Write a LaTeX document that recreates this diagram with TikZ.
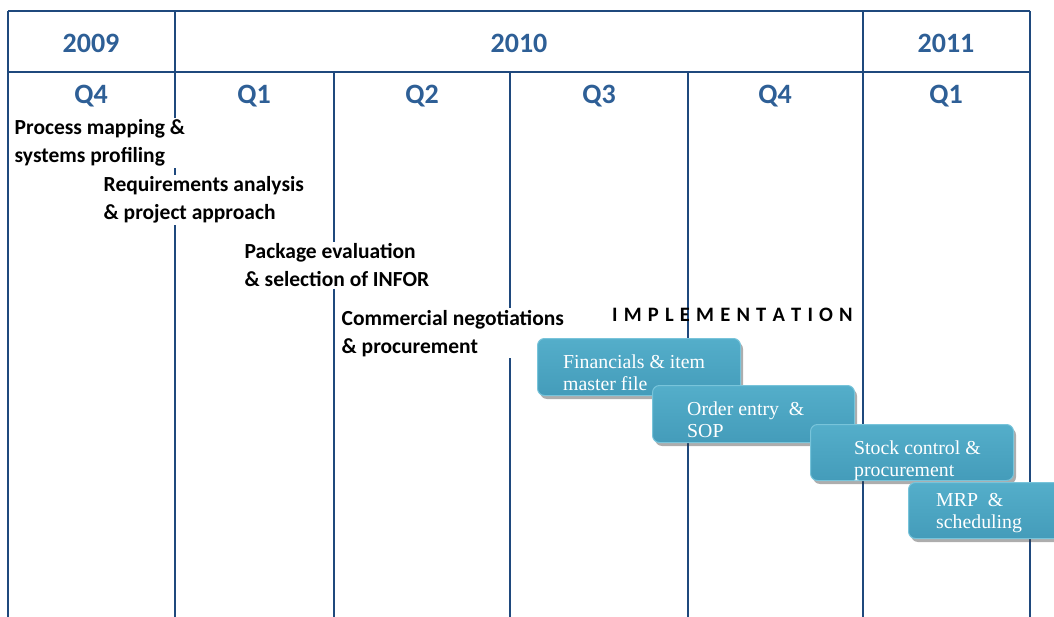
\documentclass[tikz,border=0pt]{standalone}
\usepackage{fontspec}
\setmainfont{Carlito}
\newfontfamily\boxfont{Liberation Serif}
\usetikzlibrary{shadows}
\definecolor{gridblue}{RGB}{31,73,125}
\definecolor{headblue}{RGB}{46,95,150}
\definecolor{tealtop}{RGB}{84,174,202}
\definecolor{tealbot}{RGB}{68,156,186}
\definecolor{tealedge}{RGB}{120,196,218}
\tikzset{
  grid/.style={draw=gridblue, line width=2.2pt},
  head/.style={anchor=base, text=headblue, font=\bfseries\fontsize{28}{32}\selectfont, inner sep=0pt},
  task/.style={anchor=base west, fill=white, inner sep=1.5pt, align=left,
               font=\bfseries\fontsize{21.5}{28}\selectfont},
  impl/.style={anchor=base west, inner sep=0pt, font=\bfseries\fontsize{20.5}{22}\selectfont},
  phasebox/.style={anchor=north west, rounded corners=7pt, draw=tealedge, line width=1pt,
               top color=tealtop, bottom color=tealbot,
               drop shadow={shadow xshift=2.5pt, shadow yshift=-3.5pt, opacity=0.4, fill=black!80},
               inner sep=0pt},
  phasetext/.style={anchor=base west, inner sep=0pt, align=left, text=white,
               font=\boxfont\fontsize{19.8}{22}\selectfont}
}
\begin{document}
\begin{tikzpicture}[x=1pt,y=-1pt]
\useasboundingbox (0,0) rectangle (1054,617);
\clip (0,0) rectangle (1054,617);
% grid
\draw[grid] (8,11) -- (1030,11);
\draw[grid] (8,72) -- (1030,72);
\draw[grid] (8,11) -- (8,617);
\draw[grid] (175,11) -- (175,617);
\draw[grid] (334,72) -- (334,617);
\draw[grid] (510,72) -- (510,617);
\draw[grid] (688,72) -- (688,617);
\draw[grid] (863,11) -- (863,617);
\draw[grid] (1030,11) -- (1030,617);
% headers
\node[head] (y2009) at (91,53) {2009};
\node[head] (y2010) at (519,53) {2010};
\node[head] (y2011) at (946,53) {2011};
\node[head] (q4a) at (91,104) {Q4};
\node[head] (q1a) at (254,104) {Q1};
\node[head] (q2) at (422,104) {Q2};
\node[head] (q3) at (599,104) {Q3};
\node[head] (q4b) at (775,104) {Q4};
\node[head] (q1b) at (946,104) {Q1};
% tasks (base anchor = last line baseline)
\node[task] (t1) at (13,163) {Process mapping \&\\systems profiling};
\node[task] (t2) at (102,220) {Requirements analysis\\\& project approach};
\node[task] (t3) at (243,287) {Package evaluation\\\& selection of INFOR};
\node[task] (t4) at (340,353) {Commercial negotiations\\\& procurement};
\node[impl] (impl) at (612,322) {\spaceskip=6.2pt I M P L E M E N T A T I O N};
% phases
\node[phasebox, minimum width=203pt, minimum height=57pt] (p1) at (537,338) {};
\node[phasetext] (p1t) at (563,390) {Financials \& item\\master file};
\node[phasebox, minimum width=202pt, minimum height=57pt] (p2) at (652,385) {};
\node[phasetext] (p2t) at (687,437) {Order entry\ \ \&\\SOP};
\node[phasebox, minimum width=203pt, minimum height=56pt] (p3) at (810,424) {};
\node[phasetext] (p3t) at (854,476) {Stock control \&\\procurement};
\node[phasebox, minimum width=203pt, minimum height=56pt] (p4) at (908,482) {};
\node[phasetext] (p4t) at (936,528) {MRP\ \ \&\\scheduling};
\end{tikzpicture}
\end{document}
